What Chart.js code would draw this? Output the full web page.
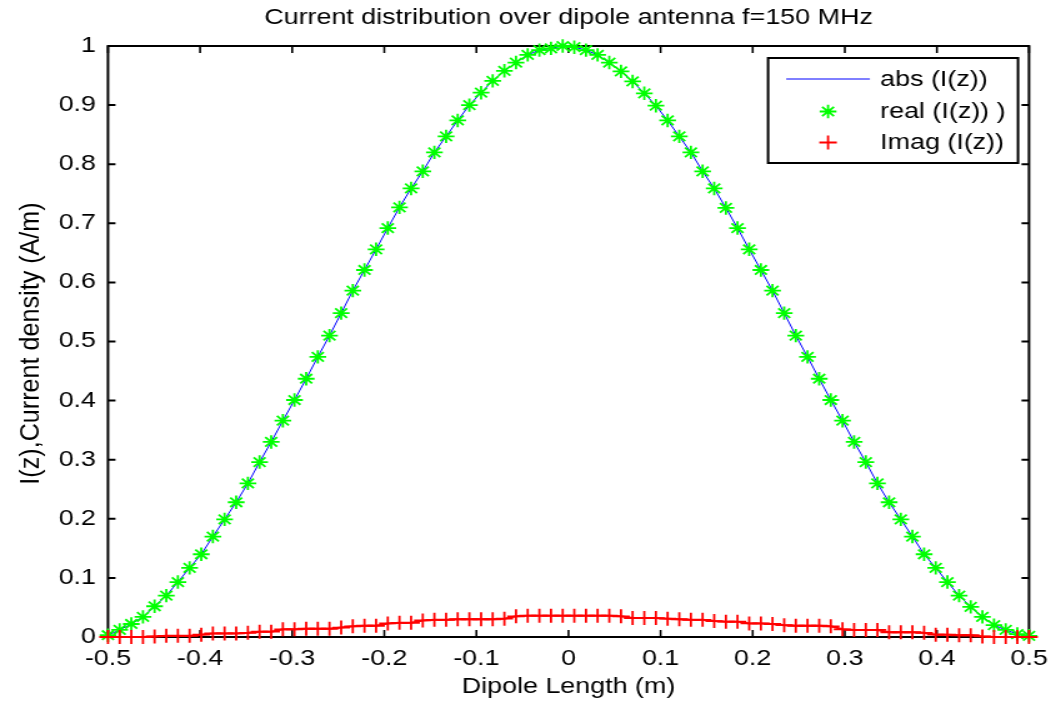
<!DOCTYPE html>
<html>
<head>
<meta charset="utf-8">
<script src="https://cdn.jsdelivr.net/npm/chart.js@4/dist/chart.umd.min.js"></script>
<style>
html,body{margin:0;padding:0;background:#fff;overflow:hidden;width:1051px;height:702px;}
#wrap{position:absolute;left:0;top:0;width:841px;height:702px;transform:scaleX(1.2497);transform-origin:0 0;}
canvas{display:block;}
</style>
</head>
<body>
<div id="wrap"><canvas id="c"></canvas></div>
<script>
// ---- data ----
const zValues = [
 -0.5000,-0.4873,-0.4747,-0.4620,-0.4494,-0.4367,-0.4241,-0.4114,-0.3987,-0.3861,
 -0.3734,-0.3608,-0.3481,-0.3354,-0.3228,-0.3101,-0.2975,-0.2848,-0.2722,-0.2595,
 -0.2468,-0.2342,-0.2215,-0.2089,-0.1962,-0.1835,-0.1709,-0.1582,-0.1456,-0.1329,
 -0.1203,-0.1076,-0.0949,-0.0823,-0.0696,-0.0570,-0.0443,-0.0316,-0.0190,-0.0063,
  0.0063, 0.0190, 0.0316, 0.0443, 0.0570, 0.0696, 0.0823, 0.0949, 0.1076, 0.1203,
  0.1329, 0.1456, 0.1582, 0.1709, 0.1835, 0.1962, 0.2089, 0.2215, 0.2342, 0.2468,
  0.2595, 0.2722, 0.2848, 0.2975, 0.3101, 0.3228, 0.3354, 0.3481, 0.3608, 0.3734,
  0.3861, 0.3987, 0.4114, 0.4241, 0.4367, 0.4494, 0.4620, 0.4747, 0.4873, 0.5000
];
const absValues = [
 0.003,0.012,0.022,0.034,0.052,0.070,0.093,0.117,0.140,0.170,
 0.199,0.228,0.260,0.296,0.330,0.366,0.401,0.437,0.474,0.510,
 0.548,0.586,0.621,0.656,0.692,0.727,0.759,0.788,0.820,0.847,
 0.874,0.900,0.921,0.941,0.958,0.972,0.985,0.993,0.996,1.000,
 0.998,0.993,0.985,0.972,0.957,0.940,0.920,0.899,0.874,0.847,
 0.820,0.788,0.759,0.726,0.692,0.656,0.621,0.586,0.548,0.510,
 0.474,0.437,0.401,0.366,0.330,0.296,0.260,0.228,0.199,0.170,
 0.140,0.117,0.093,0.070,0.051,0.034,0.020,0.012,0.005,0.002
];
const realValues = [
 0.003,0.012,0.022,0.034,0.052,0.070,0.093,0.117,0.140,0.170,
 0.199,0.228,0.260,0.296,0.330,0.366,0.401,0.437,0.474,0.510,
 0.548,0.586,0.621,0.656,0.692,0.727,0.759,0.788,0.820,0.847,
 0.874,0.900,0.921,0.941,0.958,0.972,0.985,0.993,0.996,1.000,
 0.998,0.993,0.985,0.972,0.957,0.940,0.920,0.899,0.874,0.847,
 0.820,0.788,0.759,0.726,0.692,0.656,0.621,0.586,0.548,0.510,
 0.474,0.437,0.401,0.366,0.330,0.296,0.260,0.228,0.199,0.170,
 0.140,0.117,0.093,0.070,0.051,0.034,0.020,0.012,0.005,0.002
];
const imagValues = [
 0.000,0.000,0.000,0.000,0.001,0.002,0.002,0.002,0.004,0.006,
 0.006,0.006,0.007,0.009,0.009,0.013,0.013,0.014,0.014,0.014,
 0.016,0.018,0.019,0.019,0.023,0.024,0.024,0.028,0.029,0.029,
 0.030,0.030,0.030,0.030,0.031,0.035,0.036,0.036,0.036,0.036,
 0.036,0.036,0.036,0.036,0.035,0.032,0.032,0.032,0.031,0.030,
 0.029,0.029,0.027,0.026,0.026,0.023,0.023,0.022,0.020,0.019,
 0.019,0.019,0.018,0.013,0.012,0.012,0.012,0.008,0.008,0.008,
 0.007,0.004,0.004,0.003,0.003,0.001,0.000,0.000,0.000,0.000
];
const xTickLabels = ['-0.5','-0.4','-0.3','-0.2','-0.1','0','0.1','0.2','0.3','0.4','0.5'];
const yTickLabels = ['0','0.1','0.2','0.3','0.4','0.5','0.6','0.7','0.8','0.9','1'];
const seriesNames = ['abs (I(z))','real (I(z)) )','Imag (I(z))'];
const titleText = 'Current distribution over dipole antenna f=150 MHz';
const xAxisTitle = 'Dipole Length (m)';
const yAxisTitle = 'I(z),Current density (A/m)';

// ---- styling ----
const FONT = "'Liberation Sans', Arial, Helvetica, sans-serif";
const FS = 21.5;

function pts(ys){ return zValues.map((z,i)=>({x:z, y:ys[i]})); }
function labelFor(list, v){
  const l = list.find(s => Math.abs(parseFloat(s) - v) < 1e-6);
  return l === undefined ? '' : l;
}

const axesPlugin = {
  id:'matlabAxes',
  beforeDatasetsDraw(chart){
    const {ctx, chartArea:a, scales:{x,y}} = chart;
    ctx.save();
    ctx.strokeStyle = '#000';
    ctx.lineWidth = 2;
    ctx.strokeRect(a.left, a.top, a.right - a.left, a.bottom - a.top);
    ctx.lineWidth = 1.6;
    x.ticks.forEach(t=>{
      const px = x.getPixelForValue(t.value);
      ctx.beginPath();
      ctx.moveTo(px, a.bottom); ctx.lineTo(px, a.bottom - 7);
      ctx.moveTo(px, a.top); ctx.lineTo(px, a.top + 7);
      ctx.stroke();
    });
    ctx.lineWidth = 2;
    y.ticks.forEach(t=>{
      const py = y.getPixelForValue(t.value);
      ctx.beginPath();
      ctx.moveTo(a.left, py); ctx.lineTo(a.left + 6, py);
      ctx.moveTo(a.right, py); ctx.lineTo(a.right - 6, py);
      ctx.stroke();
    });
    // y axis label (rotated, slightly elongated along its length as in the reference)
    ctx.translate(24.8, (a.top + a.bottom) / 2 + 2);
    ctx.rotate(-Math.PI / 2);
    ctx.scale(1.17, 1);
    ctx.fillStyle = '#000';
    ctx.font = FS + 'px ' + FONT;
    ctx.textAlign = 'center';
    ctx.textBaseline = 'middle';
    ctx.fillText(yAxisTitle, 0, 0);
    ctx.restore();
  }
};

function drawStar(ctx, cx, cy, r){
  const d = r * Math.SQRT1_2;
  ctx.beginPath();
  ctx.moveTo(cx - r, cy); ctx.lineTo(cx + r, cy);
  ctx.moveTo(cx, cy - r); ctx.lineTo(cx, cy + r);
  ctx.moveTo(cx - d, cy - d); ctx.lineTo(cx + d, cy + d);
  ctx.moveTo(cx - d, cy + d); ctx.lineTo(cx + d, cy - d);
  ctx.stroke();
}
function drawPlus(ctx, cx, cy, r){
  ctx.beginPath();
  ctx.moveTo(cx - r, cy); ctx.lineTo(cx + r, cy);
  ctx.moveTo(cx, cy - r); ctx.lineTo(cx, cy + r);
  ctx.stroke();
}

const legendPlugin = {
  id:'boxLegend',
  afterDraw(chart){
    const {ctx, chartArea:a} = chart;
    const w = 200, h = 105;
    const left = a.right - 8.8 - w, top = a.top + 12;
    ctx.save();
    ctx.fillStyle = '#fff';
    ctx.fillRect(left, top, w, h);
    ctx.strokeStyle = '#000';
    ctx.lineWidth = 2;
    ctx.strokeRect(left, top, w, h);
    const rows = [21, 53.5, 84.5];
    const ds = chart.data.datasets;
    ctx.font = FS + 'px ' + FONT;
    ctx.textBaseline = 'middle';
    ctx.textAlign = 'left';
    ds.forEach((d, i)=>{
      const y = top + rows[i];
      const mx = left + 48;
      ctx.strokeStyle = d.borderColor;
      if (i === 0){
        ctx.lineWidth = 1;
        ctx.beginPath(); ctx.moveTo(left + 14.5, y); ctx.lineTo(left + 81.5, y); ctx.stroke();
      } else if (i === 1){
        ctx.lineWidth = 1.8; drawStar(ctx, mx, y, 6.7);
      } else {
        ctx.lineWidth = 1.8; drawPlus(ctx, mx, y, 7);
      }
      ctx.fillStyle = '#000';
      ctx.fillText(d.label, left + 89.7, y + 1);
    });
    ctx.restore();
  }
};

new Chart(document.getElementById('c'), {
  type: 'scatter',
  data: {
    datasets: [
      { label: seriesNames[0], data: pts(absValues), showLine: true, borderColor: '#0000ff',
        backgroundColor: '#0000ff', borderWidth: 1, pointRadius: 0, order: 3, clip: false },
      { label: seriesNames[1], data: pts(realValues), showLine: false, pointStyle: 'star',
        pointRadius: 6.7, borderColor: '#00ff00', backgroundColor: '#00ff00',
        pointBorderWidth: 1.8, order: 2, clip: false },
      { label: seriesNames[2], data: pts(imagValues), showLine: true, borderColor: '#ff0000',
        backgroundColor: '#ff0000', borderWidth: 2, pointStyle: 'cross', pointRadius: 7,
        pointBorderWidth: 1.8, order: 1, clip: false }
    ]
  },
  options: {
    responsive: true,
    maintainAspectRatio: false,
    animation: false,
    events: [],
    layout: { padding: { left: 0, right: 17.6, top: 0, bottom: 0 } },
    plugins: {
      legend: { display: false },
      tooltip: { enabled: false },
      title: {
        display: true, text: titleText, color: '#000', fullSize: false,
        font: { family: FONT, size: FS, weight: 'normal', lineHeight: 1.2 },
        padding: { top: 5, bottom: 15.2 }
      }
    },
    scales: {
      x: {
        type: 'linear', position: 'bottom', min: -0.5, max: 0.5,
        grid: { display: false, drawTicks: false },
        border: { display: false },
        ticks: { stepSize: 0.1, autoSkip: false, maxRotation: 0, padding: 9, color: '#000',
          font: { family: FONT, size: FS, lineHeight: 1.2 },
          callback: (v)=>labelFor(xTickLabels, v) },
        title: { display: true, text: xAxisTitle, color: '#000',
          font: { family: FONT, size: FS, lineHeight: 1.2 }, padding: { top: 0, bottom: 2 } },
        afterFit(s){ s.height = 65; s.paddingLeft = 0; s.paddingRight = 0; }
      },
      y: {
        type: 'linear', position: 'left', min: 0, max: 1,
        grid: { display: false, drawTicks: false },
        border: { display: false },
        ticks: { stepSize: 0.1, autoSkip: false, padding: 9.6, color: '#000',
          font: { family: FONT, size: FS, lineHeight: 1.2 },
          callback: (v)=>labelFor(yTickLabels, v) },
        title: { display: false },
        afterFit(s){ s.width = 86.4; s.paddingTop = 0; s.paddingBottom = 0; }
      }
    }
  },
  plugins: [axesPlugin, legendPlugin]
});
</script>
</body>
</html>
